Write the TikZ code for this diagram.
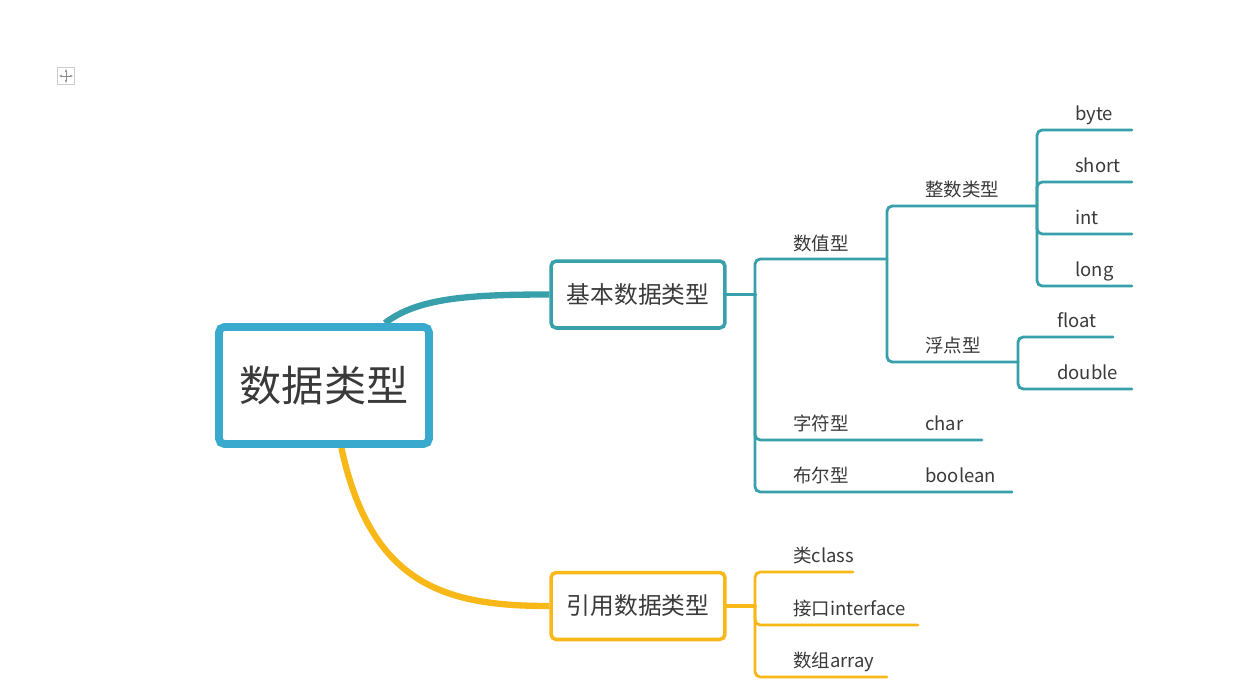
\documentclass[tikz,border=0pt]{standalone}
\usepackage{fontspec}
\setmainfont{Noto Sans CJK SC}
\usetikzlibrary{arrows.meta, calc, backgrounds}
\definecolor{cblue}{HTML}{3AA9CE}
\definecolor{cteal}{HTML}{38A0AA}
\definecolor{cyellow}{HTML}{F8B818}
\definecolor{ctext}{HTML}{3A3A3A}
\definecolor{cgrey}{HTML}{8A8A8A}
\tikzset{
  every picture/.style={line cap=round},
  rootbox/.style={draw=cblue, fill=white, line width=4.4pt, rounded corners=3pt, text=ctext,
    font=\fontsize{24}{28}\selectfont, minimum width=4.2cm, minimum height=2.34cm},
  topic/.style={draw=#1, fill=white, line width=2pt, rounded corners=3pt, text=ctext,
    font=\fontsize{13.5}{16}\selectfont, minimum width=3.48cm, minimum height=1.34cm},
  item/.style={anchor=base west, inner sep=0pt, text=ctext, font=\fontsize{10.5}{12}\selectfont},
  mainline/.style={draw=#1, line width=3.6pt},
  twig/.style={draw=#1, line width=1.6pt, rounded corners=3pt},
  stub/.style={draw=#1, line width=2.2pt},
}

\begin{document}
\begin{tikzpicture}[x=0.02cm, y=-0.02cm]
  \useasboundingbox (0,0) rectangle (1248,693);
  % move handle
  \node[draw=black!20, line width=0.5pt, minimum size=0.34cm, inner sep=0pt] (handle) at (66,76) {};
  \draw[cgrey, line width=0.5pt, {Stealth[length=1.8pt]}-{Stealth[length=1.8pt]}]
    ([xshift=1.2pt]handle.west) -- ([xshift=-1.2pt]handle.east);
  \draw[cgrey, line width=0.5pt, {Stealth[length=1.8pt]}-{Stealth[length=1.8pt]}]
    ([yshift=-1.2pt]handle.north) -- ([yshift=1.2pt]handle.south);

  % main topics
  \node[rootbox] (root) at (324,385.5) {数据类型};
  \node[topic=cteal] (jiben) at (638,294.5) {基本数据类型};
  \node[topic=cyellow] (yinyong) at (638,606) {引用数据类型};

  \begin{scope}[on background layer]
    \fill[white] (0,0) rectangle (1248,693);
    \draw[mainline=cteal] ($(root.north west)!0.78!(root.north east)$)
      .. controls +(32,-25) and +(-81,0) .. (jiben.west);
    \draw[mainline=cyellow] ($(root.south west)!0.58!(root.south east)$)
      .. controls +(30,140) and +(-100,0) .. (yinyong.west);
  \end{scope}

  % basic types
  \coordinate (jb) at (755,294.5);
  \coordinate (shuzhi-end) at (887,259);
  \coordinate (zifu-end) at (982,440);
  \coordinate (buer-end) at (1012,492);
  \draw[stub=cteal] (jiben.east) -- (jb);
  \draw[twig=cteal] (jb) |- (shuzhi-end);
  \draw[twig=cteal] (jb) |- (zifu-end);
  \draw[twig=cteal] (jb) |- (buer-end);
  \node[item] (shuzhi) at (793,250) {数值型};
  \node[item] (zifu) at (793,430) {字符型};
  \node[item] (char) at (925,430) {char};
  \node[item] (buer) at (793,482) {布尔型};
  \node[item] (boolean) at (925,482) {boolean};

  \coordinate (zhengshu-end) at (1037,206);
  \coordinate (fudian-end) at (1018,362);
  \draw[twig=cteal] (shuzhi-end) |- (zhengshu-end);
  \draw[twig=cteal] (shuzhi-end) |- (fudian-end);
  \node[item] (zhengshu) at (925,196) {整数类型};
  \node[item] (fudian) at (925,352) {浮点型};

  \coordinate (byte-end) at (1132,130);
  \coordinate (short-end) at (1132,182);
  \coordinate (int-end) at (1132,234);
  \coordinate (long-end) at (1132,286);
  \foreach \t in {byte, short, int, long}
    \draw[twig=cteal] (zhengshu-end) |- (\t-end);
  \node[item] (byte) at (1075,120) {byte};
  \node[item] (short) at (1075,172) {short};
  \node[item] (int) at (1075,224) {int};
  \node[item] (long) at (1075,276) {long};

  \coordinate (float-end) at (1113,337);
  \coordinate (double-end) at (1132,389);
  \draw[twig=cteal] (fudian-end) |- (float-end);
  \draw[twig=cteal] (fudian-end) |- (double-end);
  \node[item] (float) at (1057,327) {float};
  \node[item] (double) at (1057,379) {double};

  % reference types
  \coordinate (yy) at (755,606);
  \coordinate (class-end) at (853,572);
  \coordinate (interface-end) at (918,625);
  \coordinate (array-end) at (887,677);
  \draw[stub=cyellow] (yinyong.east) -- (yy);
  \foreach \t in {class, interface, array}
    \draw[twig=cyellow] (yy) |- (\t-end);
  \node[item] (class) at (793,562) {类class};
  \node[item] (interface) at (793,615) {接口interface};
  \node[item] (array) at (793,667) {数组array};
\end{tikzpicture}
\end{document}
